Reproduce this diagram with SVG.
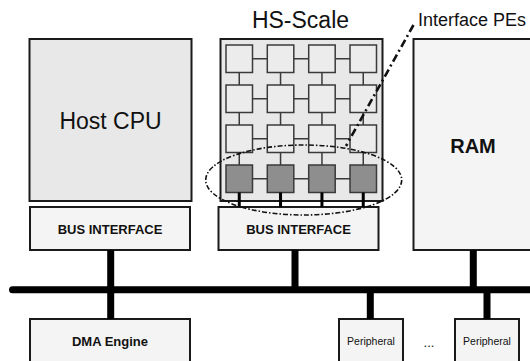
<svg xmlns="http://www.w3.org/2000/svg" width="530" height="361" viewBox="0 0 530 361">
<style>
text{font-family:"Liberation Sans",Arial,sans-serif;fill:#111}
.big{fill:#e8e8e8;stroke:#1a1a1a;stroke-width:2}
.box{fill:#f4f4f4;stroke:#1a1a1a;stroke-width:2}
.pe{fill:#ececec;stroke:#3a3a3a;stroke-width:1.5}
.ipe{fill:#8e8e8e;stroke:#3a3a3a;stroke-width:1.5}
.lk{stroke:#3a3a3a;stroke-width:1.5}
.pl{stroke:#000;stroke-width:3}
.bus{stroke:#000;stroke-width:7}
.b13{font-size:13px;font-weight:bold;text-anchor:middle}
.per{font-size:10.5px;text-anchor:middle}
</style>
<rect width="530" height="361" fill="#fff"/>
<g id="host-cpu">
<rect class="big" x="29.5" y="39" width="162" height="162"/>
<text x="110.5" y="129" font-size="23" text-anchor="middle">Host CPU</text>
</g>
<g id="host-bus-interface">
<rect class="box" x="30" y="207" width="160" height="43"/>
<text class="b13" x="110" y="234">BUS INTERFACE</text>
</g>
<g id="hs-scale">
<text x="300.5" y="28" font-size="23" text-anchor="middle">HS-Scale</text>
<rect class="big" x="220.5" y="39" width="162" height="162"/>
<g id="links">
<path class="lk" d="M252.5 58.75H267.3M293.8 58.75H308.7M335.2 58.75H350M252.5 98.75H267.3M293.8 98.75H308.7M335.2 98.75H350M252.5 138.75H267.3M293.8 138.75H308.7M335.2 138.75H350M252.5 178.75H267.3M293.8 178.75H308.7M335.2 178.75H350"/>
<path class="lk" d="M239.25 72.5V85M280.55 72.5V85M321.95 72.5V85M363.25 72.5V85M239.25 112.5V125M280.55 112.5V125M321.95 112.5V125M363.25 112.5V125M239.25 152.5V165M280.55 152.5V165M321.95 152.5V165M363.25 152.5V165"/>
</g>
<g id="pes">
<rect class="pe" x="226" y="45" width="26.5" height="27.5"/>
<rect class="pe" x="267.3" y="45" width="26.5" height="27.5"/>
<rect class="pe" x="308.7" y="45" width="26.5" height="27.5"/>
<rect class="pe" x="350" y="45" width="26.5" height="27.5"/>
<rect class="pe" x="226" y="85" width="26.5" height="27.5"/>
<rect class="pe" x="267.3" y="85" width="26.5" height="27.5"/>
<rect class="pe" x="308.7" y="85" width="26.5" height="27.5"/>
<rect class="pe" x="350" y="85" width="26.5" height="27.5"/>
<rect class="pe" x="226" y="125" width="26.5" height="27.5"/>
<rect class="pe" x="267.3" y="125" width="26.5" height="27.5"/>
<rect class="pe" x="308.7" y="125" width="26.5" height="27.5"/>
<rect class="pe" x="350" y="125" width="26.5" height="27.5"/>
<rect class="ipe" x="226" y="165" width="26.5" height="27.5"/>
<rect class="ipe" x="267.3" y="165" width="26.5" height="27.5"/>
<rect class="ipe" x="308.7" y="165" width="26.5" height="27.5"/>
<rect class="ipe" x="350" y="165" width="26.5" height="27.5"/>
</g>
</g>
<g id="hs-bus-interface">
<rect class="box" x="218.5" y="207" width="160" height="43"/>
<text class="b13" x="298.5" y="234">BUS INTERFACE</text>
</g>
<g id="ram">
<rect class="box" x="413.5" y="39" width="130" height="211"/>
<text x="473" y="153" font-size="20" font-weight="bold" text-anchor="middle">RAM</text>
</g>
<g id="dma-engine">
<rect class="box" x="30" y="319" width="160" height="50"/>
<text class="b13" x="110" y="346">DMA Engine</text>
</g>
<g id="peripheral-1">
<rect class="box" x="339" y="319" width="64" height="50"/>
<text class="per" x="371" y="345">Peripheral</text>
</g>
<g id="peripheral-2">
<rect class="box" x="455" y="319" width="64" height="50"/>
<text class="per" x="487" y="345">Peripheral</text>
</g>
<text x="429" y="347" font-size="13" text-anchor="middle">...</text>
<g id="connectors">
<line class="bus" x1="12.5" y1="289.7" x2="535" y2="289.7" stroke-linecap="round"/>
<line class="bus" x1="110.7" y1="250" x2="110.7" y2="319"/>
<line class="bus" x1="295" y1="250" x2="295" y2="289"/>
<line class="bus" x1="473.3" y1="250" x2="473.3" y2="289"/>
<line class="bus" x1="370.3" y1="290" x2="370.3" y2="319"/>
<line class="bus" x1="487" y1="290" x2="487" y2="319"/>
<path class="pl" d="M239.25 192.5V207M280.55 192.5V207M321.95 192.5V207M363.25 192.5V207"/>
</g>
<g id="interface-pes">
<ellipse cx="303.7" cy="180" rx="98" ry="35" fill="none" stroke="#111" stroke-width="1.6" stroke-dasharray="5 2 1.5 2"/>
<line x1="413.5" y1="25" x2="346" y2="146" stroke="#111" stroke-width="2.6" stroke-dasharray="8 3.5 2 3.5"/>
<text x="418" y="26" font-size="18">Interface PEs</text>
</g>
</svg>
